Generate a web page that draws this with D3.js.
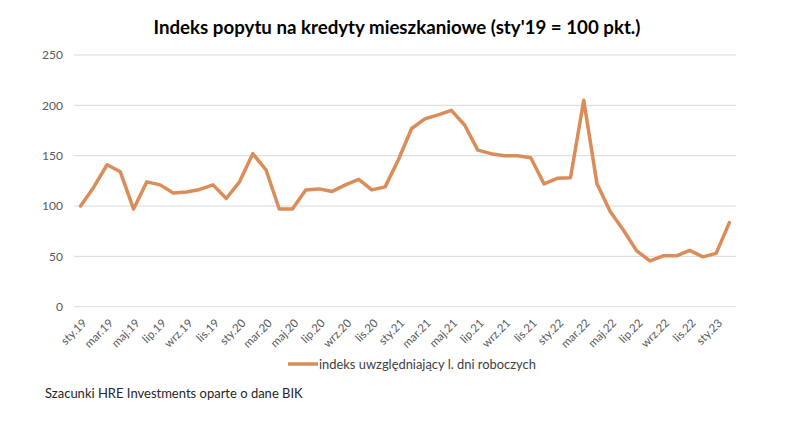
<!DOCTYPE html>
<html><head><meta charset="utf-8">
<script src="https://cdn.jsdelivr.net/npm/d3@7"></script>
<style>body{margin:0;background:#fff;} svg{display:block;}</style>
</head><body>
<svg id="c" width="800" height="424"></svg>
<script>
const monthNames = ["sty","lut","mar","kwi","maj","cze","lip","sie","wrz","paź","lis","gru"];
const years = ["19","20","21","22","23"];
const categories = [];
years.forEach(y => monthNames.forEach(m => categories.push(m + "." + y)));
categories.length = 50; // sty.19 – lut.23
const values = [100,119,141,134,97,124,121,113,114,116.5,121,107.5,124,152,136,97,97,116,117,114.5,121,126.5,116,119,146,177,186.5,190.5,195,180.5,155.5,152,150,150,148,122,127.5,128,205,122,94.5,76,55.5,45.5,50.5,50.5,56,49.5,53,83.5];
const yTicks = [0,50,100,150,200,250];
const title = "Indeks popytu na kredyty mieszkaniowe (sty'19 = 100 pkt.)";
const seriesName = "indeks uwzględniający l. dni roboczych";
const source = "Szacunki HRE Investments oparte o dane BIK";

const svg = d3.select("#c");
const font = "Lato, 'Open Sans', sans-serif";
const L = 74, R = 736, T = 55, B = 306.7;
const x = d3.scalePoint().domain(categories).range([L, R]).padding(0.5);
const y = d3.scaleLinear().domain([0, 250]).range([B, T]);
const col = "#DA8C59";

svg.append("text").attr("x", 397).attr("y", 34).attr("text-anchor", "middle")
  .attr("font-family", font).attr("font-weight", "bold").attr("font-size", 18.7).attr("fill", "#000").text(title);

const g = svg.append("g");
g.selectAll("line.grid").data(yTicks).join("line")
  .attr("x1", L).attr("x2", R).attr("y1", d => y(d)).attr("y2", d => y(d))
  .attr("stroke", "#d9d9d9").attr("stroke-width", 1);
g.selectAll("text.yt").data(yTicks).join("text")
  .attr("x", 63).attr("y", d => y(d)).attr("dy", "0.35em").attr("text-anchor", "end")
  .attr("font-family", font).attr("font-size", 12).attr("fill", "#595959").text(d => d);

g.selectAll("text.xt").data(categories.filter((d, i) => i % 2 === 0)).join("text")
  .attr("transform", d => `translate(${x(d) + 4},${321}) rotate(-45)`)
  .attr("dy", "0.35em").attr("text-anchor", "end")
  .attr("font-family", font).attr("font-size", 11.5).attr("fill", "#595959").text(d => d);

const line = d3.line().x((d, i) => x(categories[i])).y(d => y(d));
g.append("path").datum(values).attr("d", line).attr("fill", "none")
  .attr("stroke", col).attr("stroke-width", 3.5).attr("stroke-linejoin", "round").attr("stroke-linecap", "round");

svg.append("line").attr("x1", 288).attr("x2", 318).attr("y1", 364).attr("y2", 364)
  .attr("stroke", col).attr("stroke-width", 3.5);
svg.append("text").attr("x", 319).attr("y", 364).attr("dy", "0.35em")
  .attr("font-family", font).attr("font-size", 12.9).attr("fill", "#404040").text(seriesName);
svg.append("text").attr("x", 45).attr("y", 393).attr("dy", "0.35em")
  .attr("font-family", font).attr("font-size", 13).attr("fill", "#262626").text(source);
</script>
</body></html>
